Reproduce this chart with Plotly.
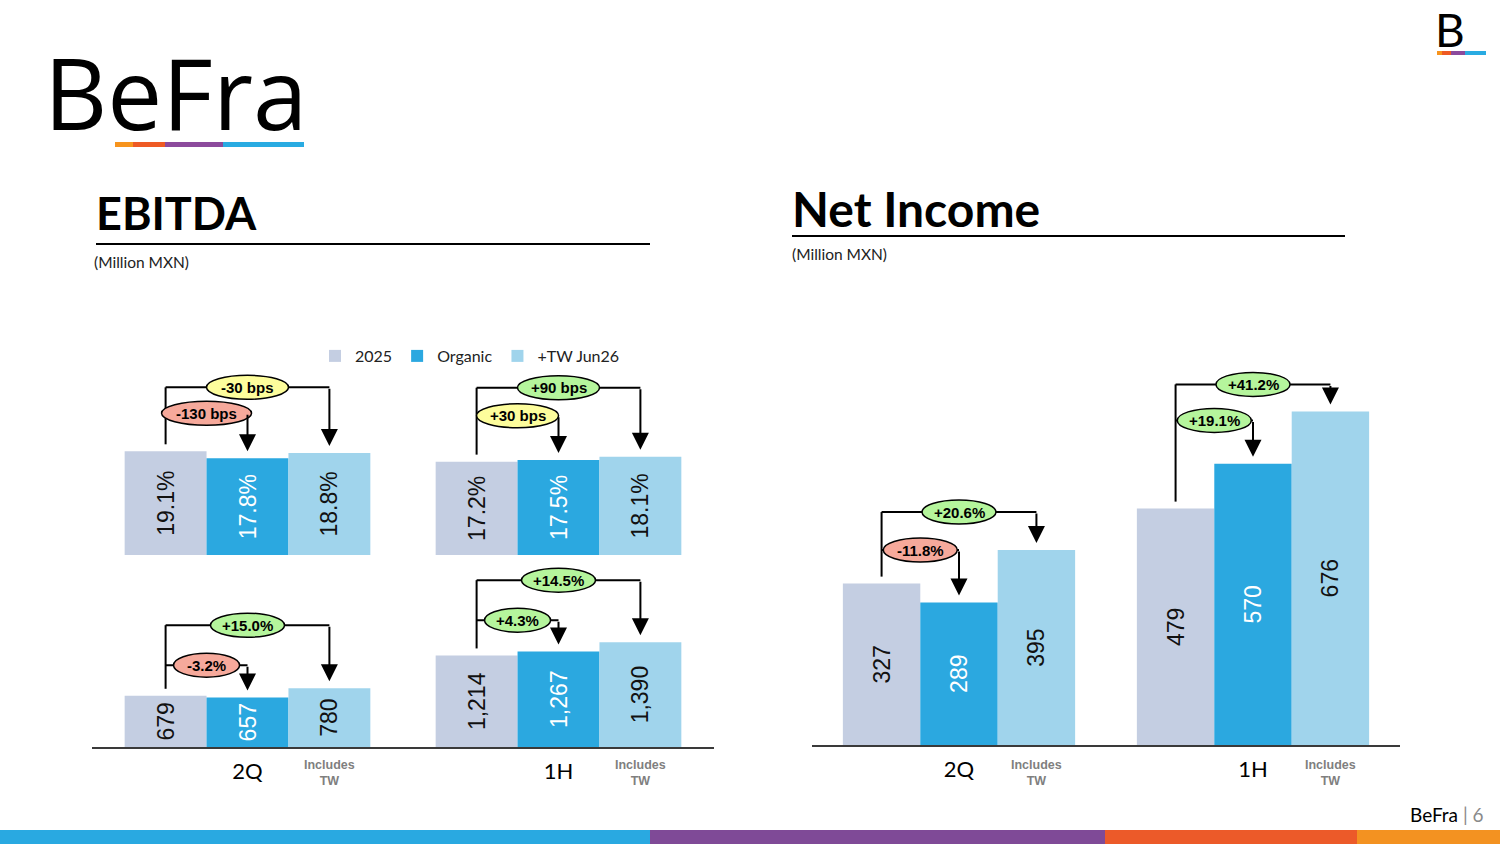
import plotly.graph_objects as go

W, H = 1500, 844

# ---- data ----
periods = ["2Q", "1H"]
series = ["2025", "Organic", "+TW Jun26"]

margin_2025 = [19.1, 17.2]
margin_organic = [17.8, 17.5]
margin_tw = [18.8, 18.1]

ebitda_2025 = [679, 1214]
ebitda_organic = [657, 1267]
ebitda_tw = [780, 1390]

netinc_2025 = [327, 479]
netinc_organic = [289, 570]
netinc_tw = [395, 676]

margin_chg_organic = ["-130 bps", "+30 bps"]
margin_chg_tw = ["-30 bps", "+90 bps"]
ebitda_chg_organic = ["-3.2%", "+4.3%"]
ebitda_chg_tw = ["+15.0%", "+14.5%"]
netinc_chg_organic = ["-11.8%", "+19.1%"]
netinc_chg_tw = ["+20.6%", "+41.2%"]

# ---- style ----
bar_colors = ["#c4cee2", "#2ba8e0", "#a0d4ec"]
text_colors = ["#111111", "#ffffff", "#111111"]
BARGAP = 0.21
BW = (1 - BARGAP) / 3
FONT = "Liberation Sans"
HEAD = "Lato"


def px(x):
    return x / W


def py(y):
    return 1 - y / H


def badge_color(label):
    if "bps" in label and abs(int(label.split()[0])) <= 30:
        return "#fdfd9c"
    return "#f6a99b" if label.startswith("-") else "#b5f59c"


panels = [
    dict(xa="x", ya="y", vals=[margin_2025, margin_organic, margin_tw],
         chg=[margin_chg_organic, margin_chg_tw], fmt=lambda v: f"{v:.1f}%",
         xdom=(92, 714), ydom=(555, 365), yr=35, gap_out=[64, 69], drop=[26, 28]),
    dict(xa="x2", ya="y2", vals=[ebitda_2025, ebitda_organic, ebitda_tw],
         chg=[ebitda_chg_organic, ebitda_chg_tw], fmt=lambda v: f"{v:,}",
         xdom=(92, 714), ydom=(747, 566), yr=2400, gap_out=[63, 62], drop=[40, 40]),
    dict(xa="x3", ya="y3", vals=[netinc_2025, netinc_organic, netinc_tw],
         chg=[netinc_chg_organic, netinc_chg_tw], fmt=lambda v: f"{v:,}",
         xdom=(812, 1400), ydom=(745, 365), yr=770, gap_out=[38, 27], drop=[38, 36]),
]

fig = go.Figure()
shapes = []
annotations = []

for p, pan in enumerate(panels):
    for i in range(3):
        vals = pan["vals"][i]
        fig.add_trace(go.Bar(
            x=list(range(len(periods))), y=vals, name=series[i],
            marker=dict(color=bar_colors[i], line=dict(width=0)),
            text=[pan["fmt"](v) for v in vals], textposition="inside",
            insidetextanchor="middle", textangle=-90,
            textfont=dict(family=FONT, size=23, color=text_colors[i]),
            xaxis=pan["xa"], yaxis=pan["ya"], showlegend=(p == 0),
            legendgroup=series[i], hoverinfo="skip",
        ))

    kx = (pan["xdom"][1] - pan["xdom"][0]) / 2
    ky = (pan["ydom"][0] - pan["ydom"][1]) / pan["yr"]
    xr, yr = pan["xa"], pan["ya"]
    line = dict(color="black", width=2)
    for g in range(len(periods)):
        xs = [g - BW, g, g + BW]
        tops = [pan["vals"][i][g] for i in range(3)]
        y_out = max(tops) + pan["gap_out"][g] / ky
        y_in = y_out - pan["drop"][g] / ky
        # stem from the 2025 bar, then the two horizontal runs
        shapes.append(dict(type="line", xref=xr, yref=yr, x0=xs[0], x1=xs[0],
                           y0=tops[0] + 7 / ky, y1=y_out, line=line, layer="above"))
        shapes.append(dict(type="line", xref=xr, yref=yr, x0=xs[0], x1=xs[2],
                           y0=y_out, y1=y_out, line=line, layer="above"))
        shapes.append(dict(type="line", xref=xr, yref=yr, x0=xs[0], x1=xs[1],
                           y0=y_in, y1=y_in, line=line, layer="above"))
        for tgt, lvl in ((1, y_in), (2, y_out)):
            annotations.append(dict(
                x=xs[tgt], y=tops[tgt] + 7 / ky, ax=xs[tgt], ay=lvl,
                xref=xr, yref=yr, axref=xr, ayref=yr, text="", showarrow=True,
                arrowhead=2, arrowsize=1.7, arrowwidth=2, arrowcolor="black"))
        for lab, lvl, cx in ((pan["chg"][0][g], y_in, (xs[0] + xs[1]) / 2),
                             (pan["chg"][1][g], y_out, (xs[0] + xs[2]) / 2)):
            wpx = len(lab) * 8 + 26
            shapes.append(dict(type="circle", xref=xr, yref=yr,
                               x0=cx - wpx / 2 / kx, x1=cx + wpx / 2 / kx,
                               y0=lvl - 12 / ky, y1=lvl + 12 / ky,
                               fillcolor=badge_color(lab),
                               line=dict(color="black", width=1.5), layer="above"))
            annotations.append(dict(x=cx, y=lvl, xref=xr, yref=yr, text=f"<b>{lab}</b>",
                                    showarrow=False,
                                    font=dict(family=FONT, size=15, color="black")))
    if p > 0:
        for g in range(len(periods)):
            annotations.append(dict(x=g + BW, y=py(756), xref=xr, yref="paper",
                                    yanchor="top", text="<b>Includes<br>TW</b>",
                                    showarrow=False,
                                    font=dict(family=FONT, size=12.5, color="#7f7f7f")))

# ---- axes ----
for p, pan in enumerate(panels):
    sfx = "" if p == 0 else str(p + 1)
    fig.layout["xaxis" + sfx] = dict(
        domain=[px(pan["xdom"][0]), px(pan["xdom"][1])], range=[-0.5, 1.5],
        anchor="y" + sfx, tickvals=[0, 1], ticktext=periods,
        showticklabels=(p > 0), showline=(p > 0), linecolor="#3a3a3a", linewidth=2,
        ticks="", showgrid=False, zeroline=False, ticklabelstandoff=4,
        tickfont=dict(family=HEAD, size=22, color="black"), fixedrange=True)
    fig.layout["yaxis" + sfx] = dict(
        domain=[py(pan["ydom"][0]), py(pan["ydom"][1])], range=[0, pan["yr"]],
        anchor="x" + sfx, visible=False, fixedrange=True)


# ---- slide decoration ----
def strip(x0, x1, y0, y1, parts):
    total = sum(f for f, _ in parts)
    cur = x0
    for f, c in parts:
        nxt = cur + (x1 - x0) * f / total
        shapes.append(dict(type="rect", xref="paper", yref="paper", x0=px(cur), x1=px(nxt),
                           y0=py(y1), y1=py(y0), fillcolor=c, line=dict(width=0)))
        cur = nxt


strip(115, 304, 142, 147, [(18, "#f7941d"), (32, "#ee5a24"), (58, "#8c4a9c"), (81, "#29abe2")])
strip(1437, 1486, 51, 55, [(5, "#f7941d"), (9, "#ee5a24"), (14, "#8c4a9c"), (21, "#29abe2")])
strip(0, 1500, 830, 844, [(650, "#29a9e1"), (455, "#7f4a97"), (252, "#ec5a29"), (143, "#f39221")])

for x0, x1, y in ((96, 650, 244), (792, 1345, 236)):
    shapes.append(dict(type="line", xref="paper", yref="paper", x0=px(x0), x1=px(x1),
                       y0=py(y), y1=py(y), line=dict(color="black", width=2)))

texts = [
    ("BeFra", 42, 92, 98, "Open Sans", "black", "left", False),
    ("B", 1450, 29, 46, HEAD, "black", "center", False),
    ("EBITDA", 94, 213, 45, HEAD, "black", "left", True),
    ("Net Income", 790, 208, 48, HEAD, "black", "left", True),
    ("(Million MXN)", 92, 262, 15.5, HEAD, "#222222", "left", False),
    ("(Million MXN)", 790, 254, 15.5, HEAD, "#222222", "left", False),
    ("BeFra <span style='color:#8a8a8a'>| 6</span>", 1486, 814, 19, HEAD, "black", "right", False),
]
for t, x, y, s, fam, col, anc, bold in texts:
    annotations.append(dict(x=px(x), y=py(y), xref="paper", yref="paper",
                            text=f"<b>{t}</b>" if bold else t, showarrow=False,
                            xanchor=anc, yanchor="middle",
                            font=dict(family=fam, size=s, color=col)))

fig.update_layout(
    width=W, height=H, margin=dict(l=0, r=0, t=0, b=0),
    paper_bgcolor="white", plot_bgcolor="white",
    barmode="group", bargap=BARGAP, bargroupgap=0,
    shapes=shapes, annotations=annotations,
    legend=dict(orientation="h", x=px(315), y=py(356), xanchor="left", yanchor="middle",
                font=dict(family=HEAD, size=16, color="#222222"), bgcolor="rgba(0,0,0,0)",
                traceorder="normal"),
    showlegend=True,
)

fig.write_html("out.html", config={"displayModeBar": False},
               post_script="document.body.style.margin='0';document.body.style.overflow='hidden';")
